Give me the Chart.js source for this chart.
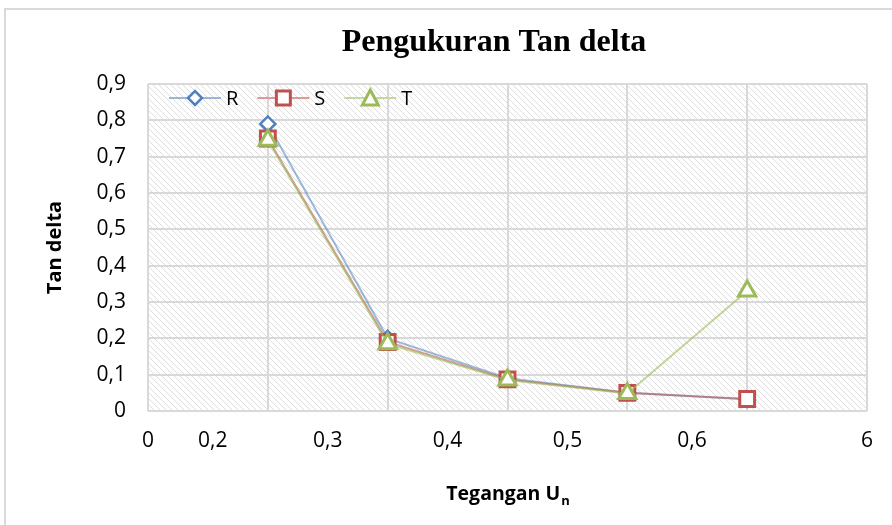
<!DOCTYPE html>
<html>
<head>
<meta charset="utf-8">
<script src="https://cdn.jsdelivr.net/npm/chart.js@4.4.1/dist/chart.umd.min.js"></script>
<style>
  html, body { margin: 0; padding: 0; background: #fff; width: 892px; height: 525px; overflow: hidden; }
  #wrap { position: absolute; left: 4px; top: 8px; width: 976px; height: 540px;
          border-left: 2px solid #d9d9d9; border-top: 2px solid #d9d9d9; background: #fff; }
  #c { display: block; }
</style>
</head>
<body>
<div id="wrap"><canvas id="c" width="976" height="511" style="width:976px;height:511px"></canvas></div>
<script>
// ---- data ----
const categories = [1, 2, 3, 4, 5];
const seriesR = [0.79, 0.20, 0.090, 0.050, 0.032];
const seriesS = [0.75, 0.19, 0.087, 0.050, 0.033];
const seriesT = [0.745, 0.185, 0.085, 0.048, 0.33];
const seriesNames = ['R', 'S', 'T'];
const xTickValues = [0, 0.54, 1.5, 2.5, 3.5, 4.54, 6];
const xTickLabels = ['0', '0,2', '0,3', '0,4', '0,5', '0,6', '6'];
const xGridValues = [0, 1, 2, 3, 4, 5, 6];
const yTickLabels = ['0', '0,1', '0,2', '0,3', '0,4', '0,5', '0,6', '0,7', '0,8', '0,9'];
const chartTitle = 'Pengukuran Tan delta';
const yTitle = 'Tan delta';
const xTitleMain = 'Tegangan U';
const xTitleSub = 'n';

// ---- styles ----
const markerColors = ['#4F81BD', '#C0504D', '#9BBB59'];
const lineColors = ['rgba(79,129,189,0.55)', 'rgba(192,80,77,0.55)', 'rgba(155,187,89,0.6)'];
const legendLineColors = ['#9db7da', '#dc9a98', '#c6d89f'];
const markerStyles = ['rectRot', 'rect', 'triangle'];
const markerRadius = [7.5, 10.5, 10];
const tickFont = { family: '"Open Sans", sans-serif', size: 21 };

function pairs(vals) { return categories.map((x, i) => ({ x: x, y: vals[i] })); }

function drawMarker(g, i, cx, cy) {
  g.fillStyle = '#fff'; g.strokeStyle = markerColors[i];
  g.beginPath();
  if (i === 0) { g.lineWidth = 2.5; const r = 7; g.moveTo(cx - r, cy); g.lineTo(cx, cy - r); g.lineTo(cx + r, cy); g.lineTo(cx, cy + r); g.closePath(); }
  else if (i === 1) { g.lineWidth = 3; g.rect(cx - 7, cy - 7, 14, 14); }
  else { g.lineWidth = 3; g.moveTo(cx, cy - 8); g.lineTo(cx + 8, cy + 7); g.lineTo(cx - 8, cy + 7); g.closePath(); }
  g.fill(); g.stroke();
}

function makeHatch(ctx) {
  const c = document.createElement('canvas');
  c.width = 6; c.height = 6;
  const g = c.getContext('2d');
  g.fillStyle = '#fff'; g.fillRect(0, 0, 6, 6);
  g.strokeStyle = '#dedede'; g.lineWidth = 1;
  for (const o of [-6, 0, 6]) { g.beginPath(); g.moveTo(o, 0); g.lineTo(o + 6, 6); g.stroke(); }
  return ctx.createPattern(c, 'repeat');
}

const hatchPlugin = {
  id: 'hatch',
  beforeDraw(chart) {
    const { ctx, chartArea: a } = chart;
    ctx.save();
    ctx.fillStyle = makeHatch(ctx);
    ctx.fillRect(a.left, a.top, a.right - a.left, a.bottom - a.top);
    ctx.restore();
  }
};

const textPlugin = {
  id: 'texts',
  afterDraw(chart) {
    const { ctx, chartArea: a } = chart;
    ctx.save();
    ctx.fillStyle = '#000';
    ctx.textBaseline = 'alphabetic';
    // chart title (centred on the full, partly cropped, chart box)
    ctx.font = 'bold 32px "Liberation Serif", serif';
    ctx.textAlign = 'center';
    ctx.fillText(chartTitle, chart.width / 2, 41);
    // x axis title with subscript
    ctx.textAlign = 'left';
    const mainFont = 'bold 19.5px "Open Sans", sans-serif';
    const subFont = 'bold 13px "Open Sans", sans-serif';
    ctx.font = mainFont; const w1 = ctx.measureText(xTitleMain).width;
    ctx.font = subFont; const w2 = ctx.measureText(xTitleSub).width;
    const cx = (a.left + a.right) / 2;
    const x0 = cx - (w1 + w2) / 2;
    const base = 490;
    ctx.font = mainFont; ctx.fillText(xTitleMain, x0, base);
    ctx.font = subFont; ctx.fillText(xTitleSub, x0 + w1 + 1, base + 5);
    // legend inside plot area
    ctx.font = '20px "Open Sans", sans-serif';
    ctx.textBaseline = 'middle';
    let x = a.left + 21;
    const y = a.top + 14;
    chart.data.datasets.forEach((ds, i) => {
      ctx.strokeStyle = legendLineColors[i]; ctx.lineWidth = 2;
      ctx.beginPath(); ctx.moveTo(x, y); ctx.lineTo(x + 52, y); ctx.stroke();
      drawMarker(ctx, i, x + 26, y);
      ctx.fillStyle = '#000';
      ctx.fillText(ds.label, x + 57, y + 1);
      x += 57 + ctx.measureText(ds.label).width + 19;
    });
    ctx.restore();
  }
};

const datasets = [seriesR, seriesS, seriesT].map((vals, i) => ({
  label: seriesNames[i],
  data: pairs(vals),
  borderColor: lineColors[i],
  borderWidth: 2,
  pointStyle: markerStyles[i],
  pointRadius: markerRadius[i],
  pointHoverRadius: markerRadius[i],
  pointBackgroundColor: '#fff',
  pointBorderColor: markerColors[i],
  pointBorderWidth: i === 0 ? 2.5 : 3,
  tension: 0,
  fill: false,
  order: 3 - i
}));

new Chart(document.getElementById('c'), {
  type: 'line',
  data: { datasets: datasets },
  plugins: [hatchPlugin, textPlugin],
  options: {
    responsive: false,
    animation: false,
    events: [],
    layout: { padding: { left: 0, right: 115, top: 74, bottom: 0 } },
    plugins: {
      tooltip: { enabled: false },
      title: { display: false },
      legend: { display: false }
    },
    scales: {
      x: {
        type: 'linear', min: 0, max: 6,
        afterBuildTicks(scale) {
          const vals = Array.from(new Set(xGridValues.concat(xTickValues))).sort((a, b) => a - b);
          scale.ticks = vals.map(v => ({ value: v }));
        },
        afterFit(scale) { scale.height = 110; },
        ticks: {
          autoSkip: false, maxRotation: 0, minRotation: 0, padding: 17,
          color: '#000', font: tickFont,
          callback(value) {
            const k = xTickValues.indexOf(value);
            return k >= 0 ? xTickLabels[k] : '';
          }
        },
        grid: {
          drawTicks: false, lineWidth: 2,
          color: (c) => (c.tick && xGridValues.indexOf(c.tick.value) >= 0) ? '#d9d9d9' : 'rgba(0,0,0,0)'
        },
        border: { display: false }
      },
      y: {
        type: 'linear', min: 0, max: 0.9,
        afterBuildTicks(scale) { scale.ticks = yTickLabels.map((t, i) => ({ value: i / 10 })); },
        afterFit(scale) { scale.width = 142; },
        ticks: {
          padding: 22, color: '#000', font: tickFont,
          callback(value, index) { return yTickLabels[index]; }
        },
        grid: { drawTicks: false, lineWidth: 2, color: '#d9d9d9' },
        border: { display: false },
        title: {
          display: true, text: yTitle, color: '#000',
          font: { family: '"Open Sans", sans-serif', size: 20, weight: 'bold' },
          padding: { top: 37, bottom: 0 }
        }
      }
    }
  }
});
</script>
</body>
</html>
